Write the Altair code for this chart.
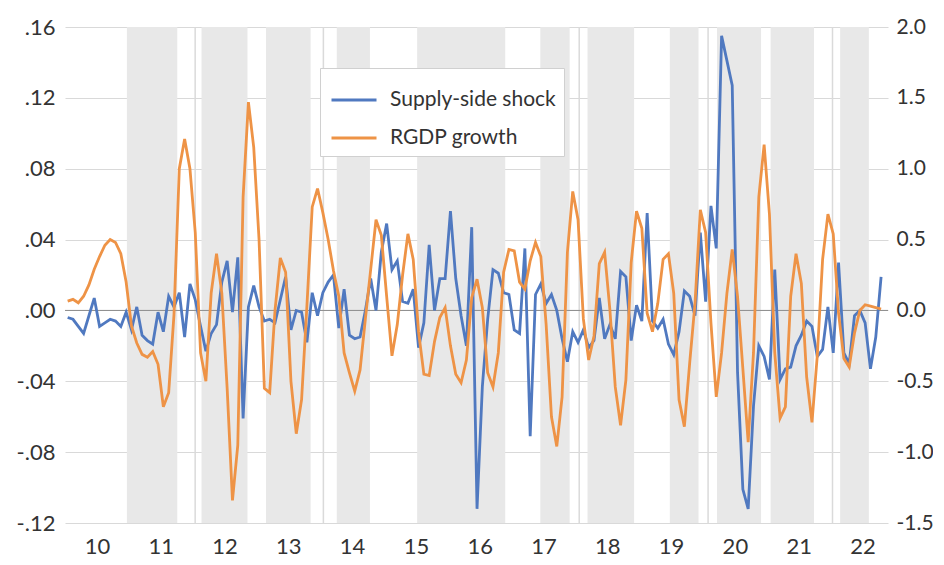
import altair as alt
import numpy as np
import pandas as pd

# ---- data (monthly, Jan 2010 - Oct 2022) ----
supply_shock = [
    -0.004, -0.005, -0.009, -0.013, -0.003, 0.007, -0.009, -0.007, -0.005, -0.006,
    -0.009, -0.001, -0.011, 0.002, -0.014, -0.017, -0.019, -0.001, -0.012, 0.008,
    0.002, 0.010, -0.015, 0.015, 0.006, -0.009, -0.023, -0.013, -0.008, 0.016,
    0.028, -0.001, 0.030, -0.061, 0.002, 0.014, 0.002, -0.006, -0.005, -0.007,
    0.006, 0.019, -0.011, 0.000, -0.001, -0.018, 0.010, -0.003, 0.010, 0.016,
    0.020, -0.010, 0.012, -0.014, -0.016, -0.015, 0.000, 0.018, 0.000, 0.033,
    0.049, 0.023, 0.028, 0.005, 0.004, 0.012, -0.021, -0.007, 0.037, 0.000,
    0.018, 0.018, 0.056, 0.018, -0.003, -0.020, 0.047, -0.112, -0.043, -0.005,
    0.023, 0.021, 0.010, 0.009, -0.011, -0.013, 0.035, -0.071, 0.009, 0.015,
    0.004, 0.009, 0.000, -0.016, -0.029, -0.012, -0.018, -0.011, -0.021, -0.017,
    0.007, -0.016, -0.008, -0.016, 0.022, 0.019, -0.017, 0.003, -0.006, 0.055,
    -0.006, -0.010, -0.005, -0.019, -0.025, -0.012, 0.011, 0.008, -0.003, 0.044,
    0.005, 0.059, 0.035, 0.155, 0.141, 0.127, -0.035, -0.101, -0.112, -0.054,
    -0.020, -0.026, -0.039, 0.023, -0.039, -0.033, -0.032, -0.020, -0.014, -0.006,
    -0.009, -0.026, -0.022, 0.002, -0.024, 0.027, -0.024, -0.030, -0.003, 0.000,
    -0.007, -0.033, -0.015, 0.019,
]

rgdp_growth = [
    0.066, 0.078, 0.054, 0.10, 0.18, 0.29, 0.38, 0.46, 0.50, 0.48,
    0.40, 0.20, -0.11, -0.23, -0.31, -0.33, -0.29, -0.38, -0.68, -0.58,
    -0.03, 1.00, 1.21, 1.00, 0.55, -0.30, -0.50, 0.125, 0.40, 0.12,
    -0.55, -1.34, -0.95, 0.80, 1.47, 1.15, 0.50, -0.55, -0.58, 0.00,
    0.37, 0.27, -0.50, -0.87, -0.63, 0.03, 0.73, 0.86, 0.69, 0.50,
    0.28, 0.10, -0.30, -0.44, -0.57, -0.42, -0.06, 0.29, 0.64, 0.53,
    0.10, -0.32, -0.10, 0.25, 0.54, 0.36, -0.15, -0.45, -0.46, -0.22,
    -0.05, 0.02, -0.25, -0.45, -0.51, -0.35, 0.09, 0.22, 0.02, -0.44,
    -0.54, -0.30, 0.27, 0.43, 0.42, 0.20, 0.15, 0.35, 0.48, 0.38,
    -0.10, -0.75, -0.96, -0.61, 0.41, 0.84, 0.64, -0.06, -0.35, -0.18,
    0.33, 0.41, 0.00, -0.54, -0.81, -0.49, 0.34, 0.70, 0.58, -0.02,
    -0.15, 0.05, 0.36, 0.40, 0.12, -0.63, -0.82, -0.37, 0.05, 0.71,
    0.55, -0.09, -0.61, -0.30, 0.12, 0.43, 0.10, -0.41, -0.93, -0.30,
    0.80, 1.17, 0.68, -0.30, -0.76, -0.68, 0.10, 0.40, 0.19, -0.47,
    -0.79, -0.32, 0.36, 0.68, 0.54, -0.02, -0.34, -0.40, -0.16, 0.00,
    0.04, 0.03, 0.02, 0.01,
]

band_start = [2010.97, 2012.14, 2013.15, 2014.26, 2015.52, 2017.45,
              2018.19, 2019.48, 2020.22, 2021.06, 2022.15]
band_end = [2011.76, 2012.86, 2013.85, 2014.78, 2016.90, 2017.91,
            2018.92, 2019.93, 2020.91, 2021.74, 2022.60]
divider_years = [2012.04, 2014.05, 2018.06, 2020.08, 2022.03]

year_ticks = [2010.5 + i for i in range(13)]
left_ticks = [-0.12, -0.08, -0.04, 0.0, 0.04, 0.08, 0.12, 0.16]
right_ticks = [-1.5, -1.0, -0.5, 0.0, 0.5, 1.0, 1.5, 2.0]
series_names = ["Supply-side shock", "RGDP growth"]
series_colors = ["#5079c0", "#ee9346"]

# ---- tables ----
n = len(supply_shock)
t = 2010 + (np.arange(n) + 0.5) / 12.0
df = pd.DataFrame({"t": t, "supply": supply_shock, "rgdp": rgdp_growth})
bands = pd.DataFrame({"start": band_start, "end": band_end,
                      "top": [0.16] * len(band_start), "bottom": [-0.12] * len(band_start)})
divs = pd.DataFrame({"yr": divider_years})
zero = pd.DataFrame({"z": [0.0]})

FONT = "Lato"
LABEL_COLOR = "#333333"

xscale = alt.Scale(domain=[2010, 2022.9], nice=False, zero=False)
yl_scale = alt.Scale(domain=[-0.12, 0.16], nice=False, zero=False)
yr_scale = alt.Scale(domain=[-1.5, 2.0], nice=False, zero=False)

xaxis = alt.Axis(values=year_ticks, labelExpr="format(floor(datum.value) % 100, '02d')",
                 grid=False, ticks=False, domain=False, labelFontSize=22, labelPadding=13,
                 labelFont=FONT, labelColor=LABEL_COLOR, title=None, labelFlush=False)
yl_axis = alt.Axis(values=left_ticks,
                   labelExpr="(datum.value < 0 ? '-' : '') + replace(format(abs(datum.value), '.2f'), '0.', '.')",
                   grid=True, gridColor="#d9d9d9", gridWidth=1, ticks=False, domain=False,
                   labelFontSize=22, labelPadding=10, labelFont=FONT, labelColor=LABEL_COLOR,
                   title=None, labelFlush=False)
yr_axis = alt.Axis(orient="right", values=right_ticks,
                   labelExpr="(datum.value < 0 ? '-' : '') + format(abs(datum.value), '.1f')",
                   grid=False, ticks=False, domain=False, labelFontSize=21, labelPadding=8,
                   labelFont=FONT, labelColor=LABEL_COLOR, title=None, labelFlush=False)

color_scale = alt.Scale(domain=series_names, range=series_colors)
legend = alt.Legend(orient="none", legendX=255, legendY=41, title=None,
                    fillColor="white", strokeColor="#d0d0d0", padding=8,
                    labelFontSize=21, labelFont=FONT, labelColor=LABEL_COLOR, labelLimit=300,
                    symbolType="stroke", symbolSize=2025, symbolStrokeWidth=3,
                    symbolOffset=2, labelOffset=12, rowPadding=4)

band_layer = alt.Chart(bands).mark_rect(color="#e8e8e8").encode(
    x=alt.X("start:Q", scale=xscale, axis=xaxis),
    x2="end:Q",
    y=alt.Y("top:Q", scale=yl_scale, axis=yl_axis),
    y2="bottom:Q",
)

div_layer = alt.Chart(divs).mark_rule(color="#dadada", strokeWidth=1.5).encode(
    x=alt.X("yr:Q", scale=xscale, axis=xaxis),
)

zero_layer = alt.Chart(zero).mark_rule(color="#8c8c8c", strokeWidth=1).encode(
    y=alt.Y("z:Q", scale=yl_scale, axis=yl_axis),
)

blue_layer = alt.Chart(df).transform_calculate(series="'Supply-side shock'").mark_line(
    strokeWidth=2.8).encode(
    x=alt.X("t:Q", scale=xscale, axis=xaxis),
    y=alt.Y("supply:Q", scale=yl_scale, axis=yl_axis),
    color=alt.Color("series:N", scale=color_scale, legend=legend),
)

orange_layer = alt.Chart(df).transform_calculate(series="'RGDP growth'").mark_line(
    strokeWidth=2.8).encode(
    x=alt.X("t:Q", scale=xscale, axis=xaxis),
    y=alt.Y("rgdp:Q", scale=yr_scale, axis=yr_axis),
    color=alt.Color("series:N", scale=color_scale, legend=legend),
)

left = alt.layer(band_layer, div_layer, zero_layer, blue_layer)
chart = alt.layer(left, orange_layer).resolve_scale(y="independent").properties(
    width=823, height=496,
    padding={"left": 57, "top": 19, "right": 45, "bottom": 38},
    autosize=alt.AutoSizeParams(type="none"),
    background="white",
).configure_view(stroke=None)

chart.save("out.html", embed_options={"renderer": "svg", "actions": False})
